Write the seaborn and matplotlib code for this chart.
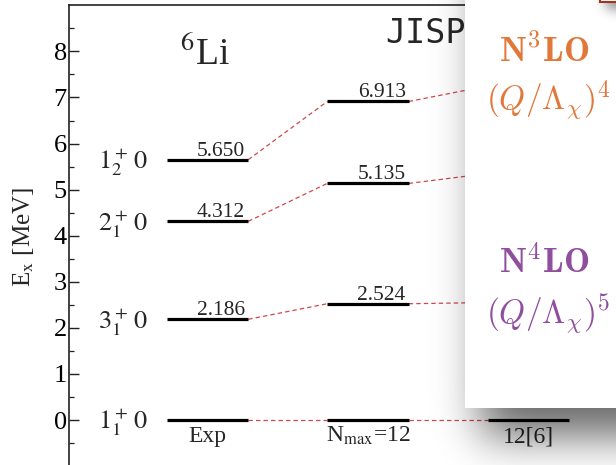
import math
import numpy as np
import pandas as pd
import matplotlib
matplotlib.use("Agg")
import matplotlib.pyplot as plt
from matplotlib.patches import Rectangle
import seaborn as sns

# ---- level energies (MeV) ----
exp_levels = [0.0, 2.186, 4.312, 5.650]
nmax_levels = [0.0, 2.524, 5.135, 6.913]
jisp_levels = [0.0, 2.55, 5.35, 7.25]
next_levels = [0.0]
state_labels = [r"$1^+_1\,0$", r"$3^+_1\,0$", r"$2^+_1\,0$", r"$1^+_2\,0$"]
column_labels = ["Exp", r"N$_{\rm max}$=12", "12[6]"]
yticks = [0, 1, 2, 3, 4, 5, 6, 7, 8]

sns.set_style("ticks")
plt.rcParams["font.family"] = ["Liberation Serif", "DejaVu Serif"]
plt.rcParams["mathtext.fontset"] = "stix"

W, H = 616, 465
fig = plt.figure(figsize=(W / 100, H / 100), dpi=100)
fig.patch.set_facecolor("white")

# main level-scheme axes (pixel geometry: x=0 column at 207.5 px, 160.5 px per column)
ax = fig.add_axes([69 / W, -0.0024, (W - 69) / W, 460.8 / H])
ax.set_xlim(-0.863, 2.545)
ax.set_ylim(-1, 9)
ax.set_facecolor("white")
for s in ["right", "bottom"]:
    ax.spines[s].set_visible(False)
for s in ["left", "top"]:
    ax.spines[s].set_color("#222222")
    ax.spines[s].set_linewidth(1.2)

ax.set_yticks(yticks)
ax.set_yticks(np.arange(-0.5, 9.0, 0.5), minor=True)
ax.tick_params(axis="y", which="major", direction="in", length=7.2, width=1.0,
               labelsize=19, pad=1.5, colors="#222222", labelcolor="black")
ax.tick_params(axis="y", which="minor", direction="in", length=3.6, width=0.9,
               colors="#222222")
ax.set_xticks([])

half = 0.254
cols = [exp_levels, nmax_levels, jisp_levels]

# dashed connectors between neighbouring columns
rows = []
for c in range(len(cols) - 1):
    for k, (a, b) in enumerate(zip(cols[c], cols[c + 1])):
        uid = f"{c}-{k}"
        rows.append({"x": c + half, "y": a, "unit": uid})
        rows.append({"x": c + 1 - half, "y": b, "unit": uid})
conn = pd.DataFrame(rows)
sns.lineplot(data=conn, x="x", y="y", units="unit", estimator=None, ax=ax,
             color="#d04848", linewidth=0.9, linestyle=(0, (3.5, 2.5)),
             legend=False, zorder=2)
ax.set_xlabel("")
ax.set_ylabel("")

# axis title, placed in figure pixels
fig.text(23 / W, 1 - 237 / H, r"E$_{\rm x}$ [MeV]", rotation=90, ha="center",
         va="center", fontsize=18)

# level bars
for c, levels in enumerate(cols):
    ax.hlines(levels, c - half, c + half, color="black", linewidth=2.3, zorder=3)
ax.hlines(next_levels, 3 - half, 3 + half, color="black", linewidth=2.3, zorder=3)

# energy values above bars
for c, levels in enumerate(cols[:2]):
    for e in levels[1:]:
        ax.text(c + half - 0.019, e + 0.09, f"{e:.3f}", ha="right", va="baseline",
                fontsize=15.5)

# spin-parity labels
for e, lab in zip(exp_levels, state_labels):
    ax.text(-0.371, e - 0.2, lab, ha="right", va="baseline", fontsize=19)

# column labels
for c, lab in enumerate(column_labels):
    ax.text(c, -0.48, lab, ha="center", va="baseline", fontsize=17)

ax.text(-0.171, 7.70, r"$^{6}$Li", ha="left", va="baseline", fontsize=27)
ax.text(1.106, 8.18, "JISP16", ha="left", va="baseline", fontsize=24,
        family="DejaVu Sans Mono")

# ---- foreground panel with drop shadow ----
ov = fig.add_axes([0, 0, 1, 1], zorder=10)
ov.set_xlim(0, W)
ov.set_ylim(H, 0)
ov.axis("off")


def cdf(v):
    return 0.5 * (1 + math.erf(v / math.sqrt(2)))


xs = np.arange(W) + 0.5
ys = np.arange(H) + 0.5


def box_shadow(x0, y1, dx, dy, sig, amax):
    fx = np.array([cdf((x - (x0 + dx)) / sig) for x in xs])
    fy = np.array([cdf(((y1 + dy) - y) / sig) for y in ys])
    return amax * np.outer(fy, fx)


def rgba(alpha):
    img = np.zeros((H, W, 4))
    img[..., 3] = alpha
    return img


panel_x0, panel_y1 = 465, 408
ov.imshow(rgba(box_shadow(panel_x0, panel_y1, 16, 28, 22, 0.6)),
          extent=(0, W, H, 0), aspect="auto", zorder=1, interpolation="bilinear")
ov.add_patch(Rectangle((panel_x0, -10), W - panel_x0 + 20, panel_y1 + 10,
                       facecolor="white", edgecolor="none", zorder=2))

# corner of a second box at the top right
ov.imshow(rgba(box_shadow(600, 2, 6, 8, 6, 0.45)),
          extent=(0, W, H, 0), aspect="auto", zorder=3, interpolation="bilinear")
ov.add_patch(Rectangle((600, -20), 40, 22, facecolor="white",
                       edgecolor="#a5341f", linewidth=1.5, zorder=4))

orange = "#e2773a"
purple = "#8f4e9e"
ov.text(544, 52, r"$\mathbf{N^3LO}$", ha="center", va="center", fontsize=25,
        color=orange, math_fontfamily="cm", zorder=5)
ov.text(548, 100, r"$(Q/\Lambda_\chi)^4$", ha="center", va="center", fontsize=24,
        color=orange, math_fontfamily="cm", zorder=5)
ov.text(544, 263, r"$\mathbf{N^4LO}$", ha="center", va="center", fontsize=25,
        color=purple, math_fontfamily="cm", zorder=5)
ov.text(548, 314, r"$(Q/\Lambda_\chi)^5$", ha="center", va="center", fontsize=24,
        color=purple, math_fontfamily="cm", zorder=5)

fig.savefig("out.png", dpi=100, facecolor="white")
